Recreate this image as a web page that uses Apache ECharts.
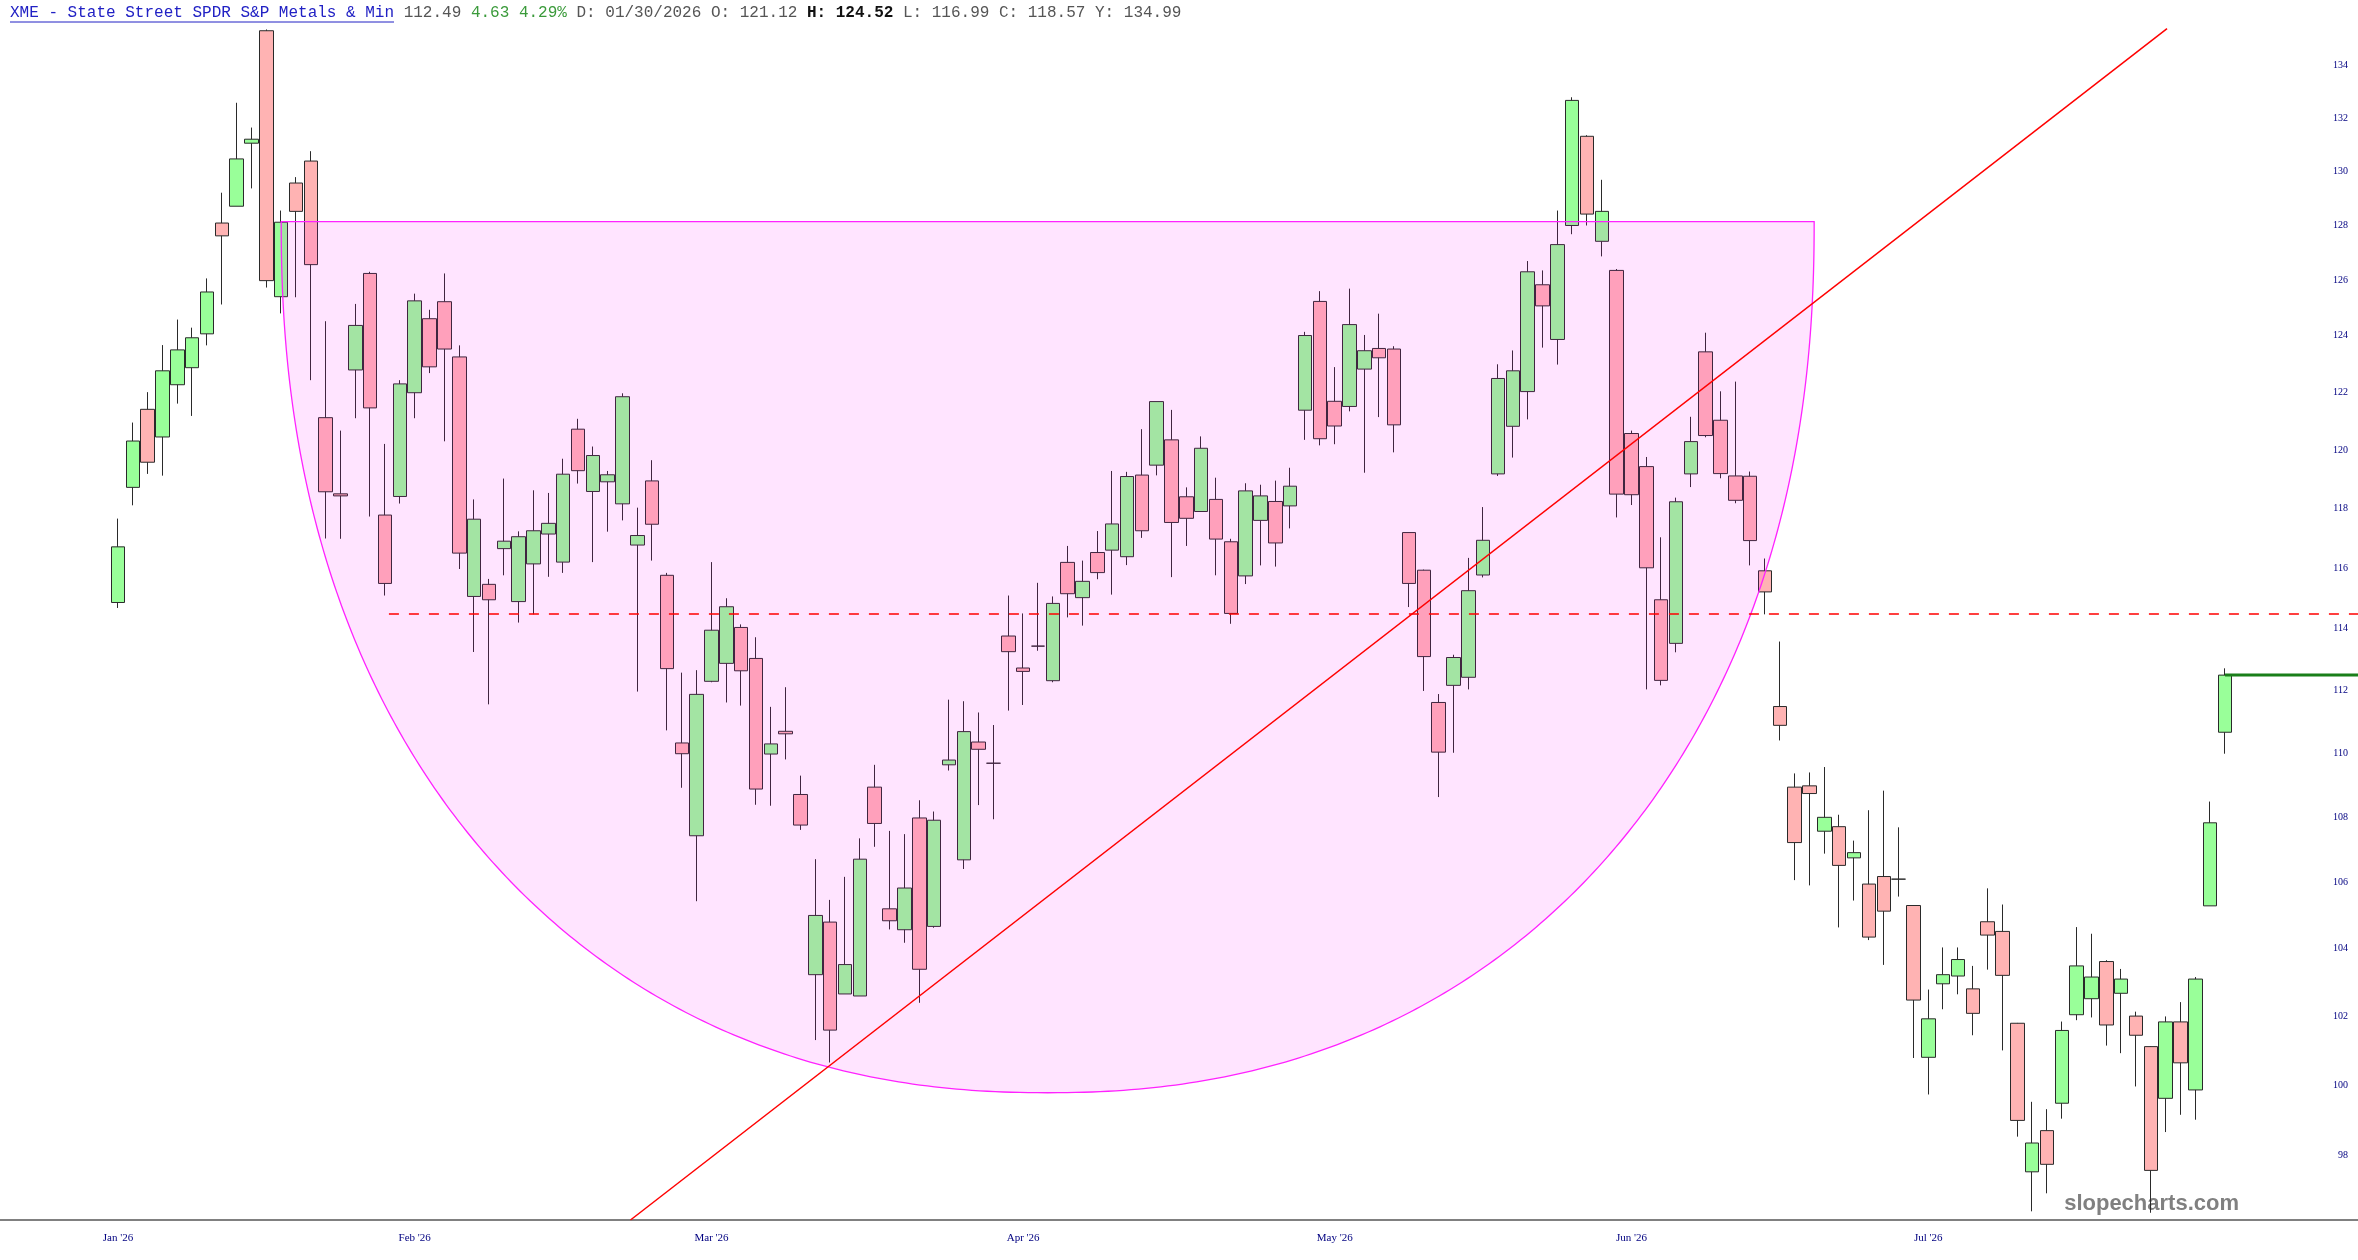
<!DOCTYPE html>
<html>
<head>
<meta charset="utf-8">
<script src="https://cdn.jsdelivr.net/npm/echarts@6/dist/echarts.min.js"></script>
<style>html,body{margin:0;padding:0;background:#fff}#chart{width:2358px;height:1260px}</style>
</head>
<body>
<div id="chart"></div>
<script>
// ---- data ----
const opens = [114.86,118.72,121.41,120.45,122.27,122.87,124.07,128.08,128.70,131.05,135.35,125.40,129.56,130.38,121.12,118.50,122.79,126.24,117.78,118.41,121.99,124.61,125.22,123.25,115.06,115.46,116.65,114.89,116.14,117.14,116.20,120.72,118.58,118.91,118.16,116.77,118.94,115.76,110.32,107.42,112.29,112.87,114.04,113.03,109.97,110.69,108.70,103.22,104.79,102.65,102.59,108.93,105.19,104.56,107.97,104.66,109.63,106.68,110.35,109.68,113.76,112.72,113.43,112.31,116.19,115.02,116.52,116.60,116.38,119.14,119.48,120.35,118.40,117.90,118.31,116.88,115.74,117.60,118.24,118.09,121.38,125.23,121.69,121.51,122.82,123.55,123.53,117.19,115.93,111.61,112.16,112.42,115.77,119.18,120.82,122.03,125.83,123.87,127.99,131.31,127.41,126.35,120.57,119.43,114.95,113.52,119.18,123.43,121.03,119.11,119.10,115.91,111.48,108.93,108.97,107.56,107.70,106.74,105.94,106.17,106.09,105.29,100.80,102.95,103.18,102.80,104.80,104.51,101.79,97.54,98.70,99.48,102.04,102.51,103.61,102.67,102.00,101.11,99.62,101.83,99.86,105.28,110.66];
const closes = [116.71,120.31,119.58,122.76,123.50,123.93,125.57,127.61,130.46,131.20,125.98,128.11,128.51,126.56,118.57,118.43,124.37,121.46,115.49,122.30,125.25,122.90,123.53,116.50,117.64,114.95,116.90,117.05,117.25,117.50,119.17,119.29,119.81,119.15,121.85,117.09,117.47,112.70,109.98,111.87,113.95,114.72,112.63,108.87,110.29,110.61,107.75,104.99,101.59,103.52,106.70,107.80,104.83,105.82,103.38,107.90,109.78,110.68,110.12,109.68,113.25,112.61,113.43,114.83,115.15,115.56,115.85,117.48,119.09,117.25,121.68,117.53,117.67,120.06,116.97,114.50,118.60,118.43,116.84,118.76,124.01,120.39,120.83,124.40,123.47,123.22,120.87,115.49,113.09,110.03,113.06,115.25,116.93,122.49,122.76,126.30,125.07,127.29,132.67,128.41,128.51,118.49,118.47,116.01,112.32,118.23,120.29,120.50,119.19,118.28,116.92,115.21,110.88,107.21,108.73,107.99,106.51,106.90,104.34,105.12,106.09,102.47,101.92,103.22,103.67,102.08,104.40,103.20,98.99,98.35,97.75,101.58,103.48,103.15,101.74,103.09,101.44,97.58,101.83,100.64,103.09,107.82,112.49];
const lows = [114.68,118.11,119.18,119.12,121.61,121.18,123.66,125.12,128.70,129.36,125.73,124.80,125.38,122.43,116.99,116.98,121.10,117.73,115.09,118.17,121.10,122.68,120.30,115.97,113.24,111.55,115.76,114.20,114.47,115.71,115.84,118.85,116.20,117.22,117.60,111.96,116.25,110.72,108.91,105.42,112.26,111.61,111.51,108.38,108.35,109.80,107.60,101.30,100.65,102.65,102.59,107.08,104.57,104.17,102.39,104.62,109.45,106.40,108.37,107.93,111.35,111.53,113.28,112.26,114.37,114.10,115.63,115.12,116.10,117.01,119.13,115.70,116.74,117.90,115.76,114.16,115.47,116.09,116.05,117.33,120.35,120.16,120.20,121.34,119.22,121.14,119.92,114.71,111.98,108.62,110.01,112.03,115.69,119.11,119.74,121.06,123.58,122.98,127.67,127.99,126.86,117.70,118.12,112.03,112.16,113.23,118.73,120.44,119.03,118.18,116.09,114.47,110.40,106.06,105.90,106.87,104.63,105.44,104.25,103.51,105.56,100.78,99.73,102.20,102.64,101.44,103.37,101.00,98.53,96.44,96.94,99.04,101.88,101.96,101.14,100.92,99.96,96.40,98.66,99.15,99.01,105.28,109.98];
const highs = [117.66,120.95,122.01,123.67,124.58,124.29,126.06,129.20,132.58,131.64,135.40,128.54,129.78,130.75,124.52,120.67,125.14,126.30,120.21,122.43,125.51,124.93,126.24,123.66,118.31,115.64,119.02,117.23,118.62,118.53,119.70,121.08,120.12,119.28,121.97,118.03,119.65,115.84,112.57,112.65,116.20,115.00,114.14,113.72,111.47,112.10,109.29,106.70,105.46,106.16,107.34,109.63,107.57,107.47,108.52,108.17,111.70,111.65,111.29,110.89,115.09,114.50,115.51,115.06,116.74,116.25,117.24,119.28,119.25,120.72,121.68,121.39,118.72,120.47,119.05,116.98,118.86,118.81,118.95,119.39,124.14,125.60,122.89,125.69,124.03,124.79,123.63,117.19,115.95,111.88,113.15,116.34,118.05,122.99,123.48,126.69,126.35,128.54,132.79,131.35,129.68,126.40,120.67,119.76,117.03,118.37,121.15,124.11,122.04,122.38,119.26,116.32,113.58,109.36,109.39,109.56,108.07,107.27,108.21,108.82,107.68,105.30,102.78,104.03,104.03,103.48,105.81,105.32,101.80,99.52,99.31,101.84,104.64,104.44,103.65,103.39,102.13,101.12,101.99,102.41,103.15,108.48,112.71];

const monthLabels = ["Jan '26", "Feb '26", "Mar '26", "Apr '26", "May '26", "Jun '26", "Jul '26"];
const monthIndex = [0, 20, 40, 61, 82, 102, 122];
const priceTicks = [98,100,102,104,106,108,110,112,114,116,118,120,122,124,126,128,130,132,134];
const priceRange = [96.2, 136.55];
const indexRange = [-7.95, 150.96];

// annotations (index, price)
const trendLine = [[34.54, 96.2], [138.09, 135.43]];
const supportStart = 18.26;
const supportLevel = 114.48;
const lastPrice = 112.49;
const lastIndex = 142;
const bowlLeft = 11.0, bowlRight = 114.31, bowlTop = 128.13, bowlBottom = 99.78;

const headerTitle = "XME - State Street SPDR S&P Metals & Min";
const headerLast = "112.49";
const headerChange = "4.63 4.29%";
const headerDate = "01/30/2026";
const headerOpen = "121.12", headerHigh = "124.52", headerLow = "116.99", headerClose = "118.57", headerY = "134.99";

// ---- chart ----
const ln = Math.log;
const chart = echarts.init(document.getElementById('chart'), null, {renderer: 'canvas'});
const candleData = opens.map((o, i) => [i, o, closes[i], lows[i], highs[i]].map((v, k) => k === 0 ? v : ln(v)));

const monoFont = '"Liberation Mono", "DejaVu Sans Mono", monospace';
const headerText = '{t|' + headerTitle + '} {g|' + headerLast + '} {gr|' + headerChange + '} {g|D: ' + headerDate +
  ' O: ' + headerOpen + '} {b|H: ' + headerHigh + '} {g|L: ' + headerLow + ' C: ' + headerClose + ' Y: ' + headerY + '}';

const option = {
  animation: false,
  backgroundColor: '#ffffff',
  grid: {left: 0, right: 0, top: 0, bottom: 40, containLabel: false},
  xAxis: {
    type: 'value', min: indexRange[0], max: indexRange[1],
    axisLine: {show: true, lineStyle: {color: '#808080', width: 2}},
    axisTick: {show: false},
    splitLine: {show: false},
    axisLabel: {
      customValues: monthIndex,
      formatter: v => { const k = monthIndex.indexOf(Math.round(v)); return k >= 0 ? monthLabels[k] : ''; },
      color: '#000080', fontFamily: '"Liberation Serif", serif', fontSize: 11, margin: 13
    }
  },
  yAxis: {
    type: 'value', position: 'right', min: ln(priceRange[0]), max: ln(priceRange[1]),
    axisLine: {show: false}, axisTick: {show: false}, splitLine: {show: false},
    axisLabel: {
      inside: true, margin: 10,
      customValues: priceTicks.map(ln),
      formatter: v => String(Math.round(Math.exp(v))),
      color: '#000080', fontFamily: '"Liberation Serif", serif', fontSize: 10
    }
  },
  graphic: [
    {type: 'text', x: 10, y: 13, z: 10,
     style: {text: headerText, font: '16px ' + monoFont, fill: '#555555', verticalAlign: 'middle',
       rich: {
         t: {fill: '#2121c4', fontFamily: monoFont, fontSize: 16},
         g: {fill: '#555555', fontFamily: monoFont, fontSize: 16},
         gr: {fill: '#3a9a3a', fontFamily: monoFont, fontSize: 16},
         b: {fill: '#111111', fontFamily: monoFont, fontSize: 16, fontWeight: 'bold'}
       }}},
    {type: 'line', z: 10, shape: {x1: 10, y1: 22, x2: 394, y2: 22}, style: {stroke: '#2121c4', lineWidth: 1}},
    {type: 'text', x: 2239, y: 1204, z: 0,
     style: {text: 'slopecharts.com', font: 'bold 22px "Liberation Sans", Arial, sans-serif', fill: '#808080',
             textAlign: 'right', verticalAlign: 'middle'}}
  ],
  series: [
    {
      type: 'candlestick', name: 'XME', z: 2, silent: true, barWidth: 14,
      data: candleData,
      itemStyle: {color: '#99ff99', color0: '#ffb3b3', borderColor: '#2a2a2a', borderColor0: '#2a2a2a',
                  borderColorDoji: '#2a2a2a', borderWidth: 1}
    },
    {
      type: 'custom', z: 3, silent: true, coordinateSystem: 'cartesian2d',
      data: [[bowlLeft, ln(bowlTop), bowlRight, ln(bowlBottom)]],
      encode: {x: [0, 2], y: [1, 3]},
      renderItem: (params, api) => {
        const pL = api.coord([api.value(0), api.value(1)]);
        const pR = api.coord([api.value(2), api.value(1)]);
        const pB = api.coord([(api.value(0) + api.value(2)) / 2, api.value(3)]);
        const cx = (pL[0] + pR[0]) / 2, rx = (pR[0] - pL[0]) / 2, ry = pB[1] - pL[1];
        const e = 2 / 2.2;
        const pts = [];
        for (let i = 0; i <= 360; i++) {
          const t = Math.PI * i / 360, c = Math.cos(t), s = Math.sin(t);
          pts.push([cx + rx * Math.sign(c) * Math.pow(Math.abs(c), e), pL[1] + ry * Math.pow(Math.abs(s), e)]);
        }
        return {type: 'polygon', shape: {points: pts},
                style: {fill: 'rgba(255,0,255,0.105)', stroke: '#ff22ff', lineWidth: 1.3}};
      }
    },
    {
      type: 'line', z: 4, silent: true, symbol: 'none', clip: true,
      data: trendLine.map(p => [p[0], ln(p[1])]),
      lineStyle: {color: '#ff0000', width: 1.5}
    },
    {
      type: 'line', z: 4, silent: true, symbol: 'none',
      data: [[supportStart, ln(supportLevel)], [indexRange[1], ln(supportLevel)]],
      lineStyle: {color: '#ff0000', width: 1.5, type: [10, 10]}
    },
    {
      type: 'line', z: 4, silent: true, symbol: 'none',
      data: [[lastIndex, ln(lastPrice)], [indexRange[1], ln(lastPrice)]],
      lineStyle: {color: '#1a7f1a', width: 3}
    }
  ]
};
chart.setOption(option);
</script>
</body>
</html>
